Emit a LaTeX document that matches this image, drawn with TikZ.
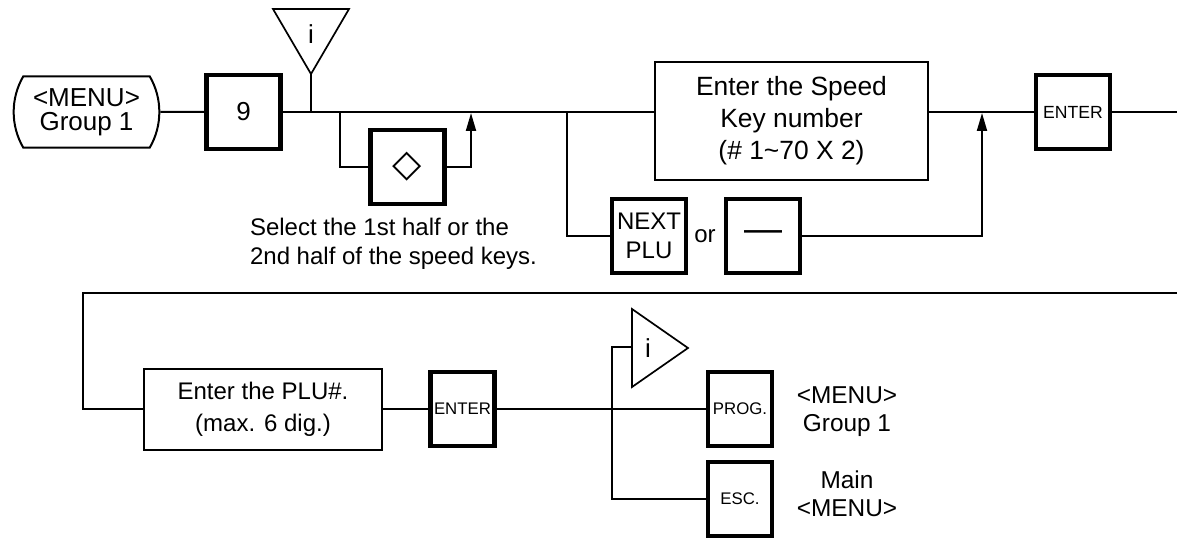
\documentclass[tikz,border=0pt]{standalone}
\usepackage{fontspec}
\setmainfont{Liberation Sans}
\newfontfamily\symfont{DejaVu Sans}
\usetikzlibrary{arrows.meta, positioning, calc, shapes.misc}
\tikzset{
  tasto/.style={draw, line width=2.2pt, minimum width=37pt, minimum height=37pt, inner sep=1pt, align=center, font=\fontsize{13}{15}\selectfont},
  tastino/.style={tasto, minimum width=32pt, font=\fontsize{8.4}{10}\selectfont},
  campo/.style={draw, line width=1pt, align=center, inner sep=2pt},
  linea/.style={line width=1pt},
  freccia/.style={line width=1pt, -{Triangle[length=9pt,width=5pt]}},
}

\begin{document}
\begin{tikzpicture}[x=0.5pt, y=-0.5pt]
    \useasboundingbox (0,0) rectangle (1177,540);

    % Riga superiore
    \node[draw, linea, rounded rectangle, rounded rectangle arc length=60, minimum width=79.5pt, minimum height=35.5pt, align=center, font=\fontsize{13}{12}\selectfont] (menu) at (86.5,112) {<MENU>\\Group 1};
    \node[tasto] (key9) at (243.5,112) {9};
    \draw[linea] (menu) -- (key9);

    % Triangolo info
    \draw[line width=0.85pt] (273,9) -- (349,9) -- (311,74) -- cycle;
    \coordinate (punta1) at (311,74);
    \node[font=\fontsize{13}{15}\selectfont] (info1) at (311,34) {i};

    % Campo numero tasto
    \node[campo, minimum width=136.5pt, minimum height=59pt, font=\fontsize{13.2}{16}\selectfont] (speed) at (791.5,121) {Enter the Speed\\Key number\\(\# 1\textasciitilde 70 X 2)};
    \node[tasto, font=\fontsize{8.8}{10}\selectfont] (enter1) at (1073,112) {ENTER};
    \coordinate (fine1) at (1177,112);
    \draw[linea] (key9) -- (key9 -| speed.west);
    \draw[linea] (punta1) -- (punta1 |- key9);
    \draw[linea] (speed.east |- enter1) -- (enter1) -- (fine1);

    % Tasto diamante
    \node[tasto, font=\fontsize{19}{19}\selectfont\symfont] (dia) at (407.5,167) {◇};
    \coordinate (b1) at (340,112);
    \coordinate (r1) at (471,113);
    \draw[linea] (b1) |- (dia);
    \draw[freccia] (dia) -| (r1);
    \node[anchor=west, align=left, font=\fontsize{12}{14.5}\selectfont] (nota) at (243,244) {Select the 1st half or the\\2nd half of the speed keys.};

    % NEXT PLU oppure meno
    \coordinate (b2) at (567,112);
    \coordinate (r2) at (982,113);
    \node[tasto, font=\fontsize{12}{14.5}\selectfont] (nextplu) at (649,236) {NEXT\\PLU};
    \node[font=\fontsize{12}{14}\selectfont] (oppure) at (705,236) {or};
    \node[tasto, font=\fontsize{19}{19}\selectfont] (meno) at (763,236) {---};
    \draw[linea] (b2) |- (nextplu);
    \draw[freccia] (meno) -| (r2);

    % Riga inferiore
    \coordinate (fine2) at (1177,293);
    \coordinate (angolo) at (83,293);
    \node[campo, minimum width=119pt, minimum height=40.5pt, font=\fontsize{12}{16}\selectfont] (plu) at (263,409) {Enter the PLU\#.\\(max. 6 dig.)};
    \node[tastino] (enter2) at (462.5,409) {ENTER};
    \node[tastino] (prog) at (740,409) {PROG.};
    \node[tastino] (esc) at (740,499) {ESC.};
    \draw[linea] (fine2) -- (angolo) |- (plu);
    \draw[linea] (plu) -- (enter2) -- (prog);

    % Uscite
    \draw[line width=0.85pt] (632,309) -- (688,348) -- (632,387) -- cycle;
    \node[font=\fontsize{13}{15}\selectfont] (info2) at (648,348) {i};
    \coordinate (b3) at (612,409);
    \coordinate (t2) at (632,347);
    \draw[linea] (b3) |- (t2);
    \draw[linea] (b3) |- (esc);
    \node[align=center, font=\fontsize{12.2}{14}\selectfont] (progtxt) at (847,412) {<MENU>\\Group 1};
    \node[align=center, font=\fontsize{12.2}{14}\selectfont] (esctxt) at (847,494) {Main\\<MENU>};
\end{tikzpicture}
\end{document}
